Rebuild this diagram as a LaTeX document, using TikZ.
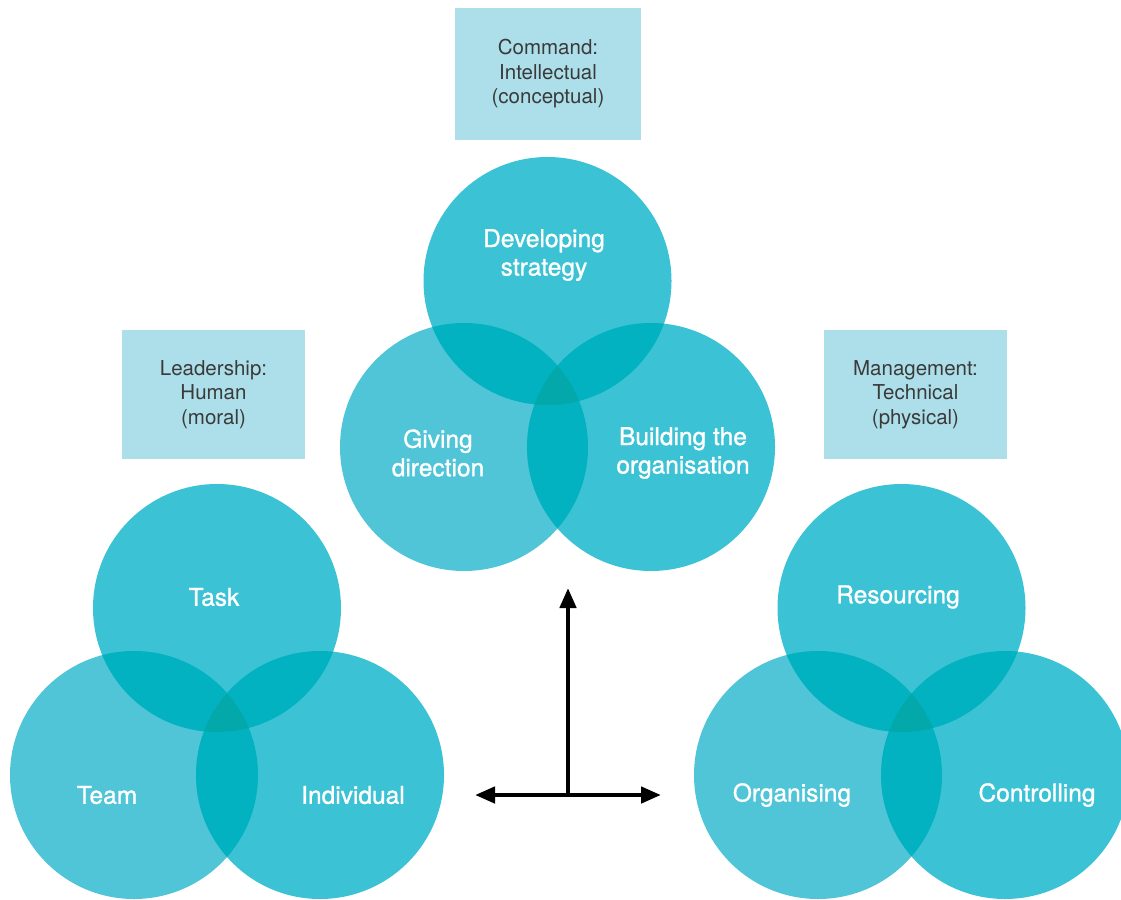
\documentclass[tikz,border=0pt]{standalone}
\usepackage{fontspec}
\setmainfont{TeX Gyre Heros}
\newfontfamily\labelfont[FakeBold=1.2]{TeX Gyre Heros}
\usetikzlibrary{arrows.meta}
\definecolor{circmain}{HTML}{3CC2D5}
\definecolor{circlight}{HTML}{50C5D8}
\definecolor{circpair}{HTML}{02B2C0}
\definecolor{circtriple}{HTML}{03A9AA}
\definecolor{boxfill}{HTML}{ACDFE9}
\definecolor{boxtext}{HTML}{3A3A3A}
\tikzset{
  circlabel/.style={text=white, align=center, font=\labelfont\fontsize{24.5}{28.5}\selectfont},
  boxlabel/.style={fill=boxfill, text=boxtext, align=center, inner sep=0pt,
    font=\fontsize{20.5}{24.5}\selectfont},
  arrowline/.style={line width=4.5pt},
}
% one venn of three circles: top, left, right
\newcommand\vennthree[3]{%
  \fill[circlight] (#2) circle (\r);
  \fill[circmain] (#1) circle (\r) (#3) circle (\r);
  \begin{scope}
    \clip (#1) circle (\r);
    \fill[circpair] (#2) circle (\r) (#3) circle (\r);
  \end{scope}
  \begin{scope}
    \clip (#2) circle (\r);
    \fill[circpair] (#3) circle (\r);
  \end{scope}
  \begin{scope}
    \clip (#1) circle (\r);
    \clip (#2) circle (\r);
    \fill[circtriple] (#3) circle (\r);
  \end{scope}}
\begin{document}
\begin{tikzpicture}[x=1pt, y=-1pt, line join=round, >=stealth]
  \useasboundingbox (0,0) rectangle (1121,899);
  \def\r{124}
  \path
  (547.5,281) coordinate (cT) (464,447) coordinate (cL) (651,447) coordinate (cR)
  (217,608) coordinate (lT) (134,775) coordinate (lL) (320,775) coordinate (lR)
  (901.5,608) coordinate (rT) (818,775) coordinate (rL) (1005,775) coordinate (rR)
  ;
  \vennthree{cT}{cL}{cR}
  \vennthree{lT}{lL}{lR}
  \vennthree{rT}{rL}{rR}

  % circle labels
  \node[circlabel] (strategy) at (544,255) {Developing\\strategy};
  \node[circlabel] (direction) at (438,453) {Giving\\direction};
  \node[circlabel] (organisation) at (683,453) {Building the\\organisation};
  \node[circlabel] (task) at (214,597) {Task};
  \node[circlabel] (team) at (107,795) {Team};
  \node[circlabel] (individual) at (353,795) {Individual};
  \node[circlabel] (resourcing) at (898,597) {Resourcing};
  \node[circlabel] (organising) at (792,795) {Organising};
  \node[circlabel] (controlling) at (1037,795) {Controlling};

  % boxes
  \node[boxlabel, minimum width=186, minimum height=132] (command) at (548,74)
    {Command:\\Intellectual\\(conceptual)};
  \node[boxlabel, minimum width=183, minimum height=129] (leadership) at (213.5,394.5)
    {Leadership:\\Human\\(moral)};
  \node[boxlabel, minimum width=183, minimum height=129] (management) at (915.5,394.5)
    {Management:\\Technical\\(physical)};

  % arrows
  \coordinate (origin) at (568,797);
  \coordinate (up) at (568,588);
  \coordinate (left) at (475,795);
  \coordinate (right) at (661,795);
  \draw[arrowline, -{Triangle[length=20pt,width=16pt]}] (origin) -- (up);
  \draw[arrowline, {Triangle[length=20pt,width=16pt]}-{Triangle[length=20pt,width=16pt]}] (left) -- (right);
\end{tikzpicture}
\end{document}
